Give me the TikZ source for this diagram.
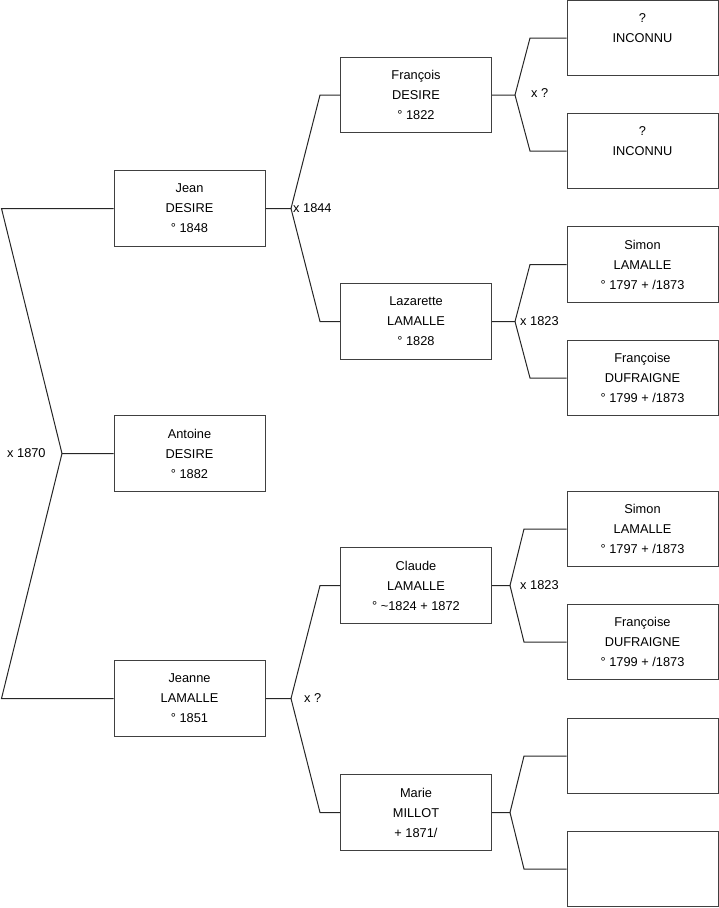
\documentclass[tikz,border=0pt]{standalone}
\usepackage{fontspec}
\setmainfont{Liberation Sans}
\begin{document}
\begin{tikzpicture}[x=1pt,y=-1pt,
  person/.style={draw=black!75,line width=1pt,minimum width=151pt,minimum height=75.5pt,inner sep=0pt,align=center,font=\fontsize{12.8}{20}\selectfont},
  link/.style={draw=black!85,line width=1pt},
  lbl/.style={anchor=west,inner sep=0pt,font=\fontsize{12.8}{15}\selectfont}]
\useasboundingbox (0,0) rectangle (719,908);
% generation 1
\node[person] (jean) at (189.5,208.5) {Jean\\DESIRE\\° 1848};
\node[person] (antoine) at (189.5,453.5) {Antoine\\DESIRE\\° 1882};
\node[person] (jeanne) at (189.5,698.5) {Jeanne\\LAMALLE\\° 1851};
% generation 2
\node[person] (francois) at (416,95) {François\\DESIRE\\° 1822};
\node[person] (lazarette) at (416,321.5) {Lazarette\\LAMALLE\\° 1828};
\node[person] (claude) at (416,585.5) {Claude\\LAMALLE\\° \textasciitilde 1824 + 1872};
\node[person] (marie) at (416,812.5) {Marie\\MILLOT\\+ 1871/};
% generation 3
\node[person] (p1) at (642.5,38) {?\\INCONNU\\~};
\node[person] (p2) at (642.5,151) {?\\INCONNU\\~};
\node[person] (p3) at (642.5,264.5) {Simon\\LAMALLE\\° 1797 + /1873};
\node[person] (p4) at (642.5,378) {Françoise\\DUFRAIGNE\\° 1799 + /1873};
\node[person] (p5) at (642.5,529) {Simon\\LAMALLE\\° 1797 + /1873};
\node[person] (p6) at (642.5,642) {Françoise\\DUFRAIGNE\\° 1799 + /1873};
\node[person] (p7) at (642.5,756) {};
\node[person] (p8) at (642.5,869) {};
% junction points
\coordinate (r0) at (62,453.5);
\coordinate (r0a) at (1.5,208.5);
\coordinate (r0b) at (1.5,698.5);
\coordinate (r1) at (291,208.5);
\coordinate (r1a) at (320,95);
\coordinate (r1b) at (320,321.5);
\coordinate (r2) at (291,698.5);
\coordinate (r2a) at (320,585.5);
\coordinate (r2b) at (320,812.5);
\coordinate (r3) at (515,95);
\coordinate (r3a) at (530,38);
\coordinate (r3b) at (530,151);
\coordinate (r4) at (515,321.5);
\coordinate (r4a) at (530,264.5);
\coordinate (r4b) at (530,378);
\coordinate (r5) at (510,585.5);
\coordinate (r5a) at (524,529);
\coordinate (r5b) at (524,642);
\coordinate (r6) at (510,812.5);
\coordinate (r6a) at (524,756);
\coordinate (r6b) at (524,869);
% connectors
\draw[link] (antoine.west) -- (r0) -- (r0a) -- (jean.west);
\draw[link] (r0) -- (r0b) -- (jeanne.west);
\draw[link] (jean.east) -- (r1) -- (r1a) -- (francois.west);
\draw[link] (r1) -- (r1b) -- (lazarette.west);
\draw[link] (jeanne.east) -- (r2) -- (r2a) -- (claude.west);
\draw[link] (r2) -- (r2b) -- (marie.west);
\draw[link] (francois.east) -- (r3) -- (r3a) -- (p1.west);
\draw[link] (r3) -- (r3b) -- (p2.west);
\draw[link] (lazarette.east) -- (r4) -- (r4a) -- (p3.west);
\draw[link] (r4) -- (r4b) -- (p4.west);
\draw[link] (claude.east) -- (r5) -- (r5a) -- (p5.west);
\draw[link] (r5) -- (r5b) -- (p6.west);
\draw[link] (marie.east) -- (r6) -- (r6a) -- (p7.west);
\draw[link] (r6) -- (r6b) -- (p8.west);
% marriage labels
\node[lbl] (m0) at (7,453) {x 1870};
\node[lbl] (m1) at (293,208) {x 1844};
\node[lbl] (m2) at (304,698) {x ?};
\node[lbl] (m3) at (531,93) {x ?};
\node[lbl] (m4) at (520,321) {x 1823};
\node[lbl] (m5) at (520,585) {x 1823};
\end{tikzpicture}
\end{document}
